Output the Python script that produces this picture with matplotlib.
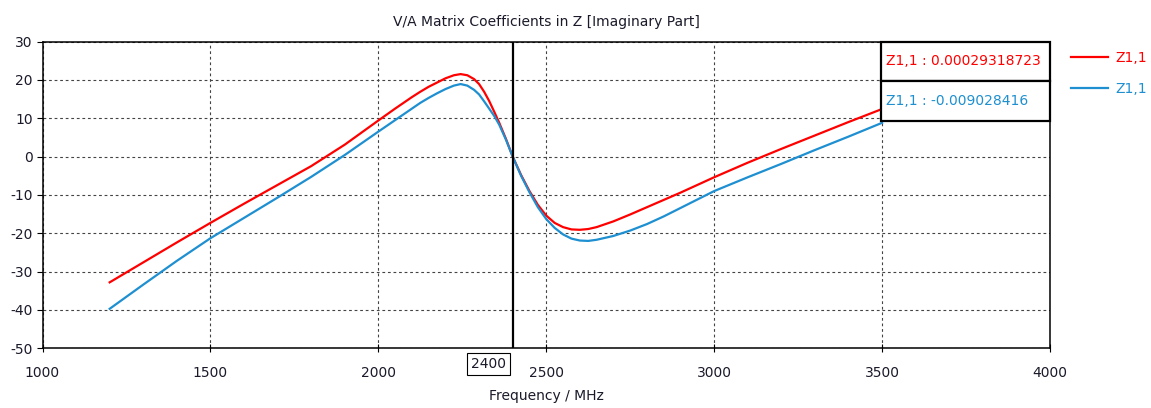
import matplotlib
matplotlib.use("Agg")
import matplotlib.pyplot as plt
from matplotlib.patches import Rectangle

# ---- data ----
freq_red = [1200, 1300, 1400, 1500, 1600, 1700, 1800, 1900, 2000, 2050, 2100, 2125,
            2150, 2175, 2200, 2225, 2245, 2265, 2285, 2300, 2315, 2330, 2345, 2360,
            2380, 2400, 2425, 2450, 2475, 2500, 2525, 2550, 2575, 2600, 2625, 2650,
            2700, 2750, 2800, 2850, 2900, 3000, 3100, 3200, 3300, 3400, 3500]
z_red = [-32.8, -27.6, -22.4, -17.3, -12.3, -7.4, -2.5, 3.1, 9.4, 12.5, 15.5, 16.9,
         18.2, 19.3, 20.4, 21.2, 21.5, 21.2, 20.2, 18.9, 16.9, 14.5, 11.7, 8.8,
         4.6, 0.0, -4.8, -9.0, -12.6, -15.4, -17.3, -18.4, -19.0, -19.1, -18.9, -18.4,
         -16.9, -15.1, -13.2, -11.3, -9.4, -5.4, -1.6, 2.0, 5.5, 9.0, 12.4]

freq_blue = [1200, 1300, 1400, 1500, 1600, 1700, 1800, 1900, 2000, 2050, 2100, 2125,
             2150, 2175, 2200, 2225, 2245, 2265, 2285, 2300, 2315, 2330, 2345, 2360,
             2380, 2400, 2425, 2450, 2475, 2500, 2525, 2550, 2575, 2600, 2625, 2650,
             2700, 2750, 2800, 2850, 2900, 3000, 3100, 3200, 3300, 3400, 3500]
z_blue = [-39.7, -33.4, -27.2, -21.3, -16.0, -10.7, -5.3, 0.4, 6.5, 9.5, 12.5, 14.0,
          15.3, 16.5, 17.6, 18.5, 18.9, 18.5, 17.4, 16.2, 14.4, 12.5, 10.6, 8.3,
          4.4, 0.0, -5.0, -9.3, -13.2, -16.3, -18.6, -20.3, -21.4, -21.9, -22.0, -21.7,
          -20.7, -19.3, -17.6, -15.6, -13.4, -9.0, -5.4, -1.9, 1.7, 5.2, 8.8]

series_labels = ["Z1,1", "Z1,1"]
marker_texts = ["Z1,1 : 0.00029318723", "Z1,1 : -0.009028416"]
cursor_freq = 2400
x_ticks = [1000, 1500, 2000, 2500, 3000, 3500, 4000]
y_ticks = [-50, -40, -30, -20, -10, 0, 10, 20, 30]

title = "V/A Matrix Coefficients in Z [Imaginary Part]"
xlabel = "Frequency / MHz"

RED = "#ff0000"
BLUE = "#1e8fd0"
TXT = "#1a1a2a"

plt.rcParams['font.family'] = ['DejaVu Sans']
plt.rcParams['axes.unicode_minus'] = False

W, H = 1151, 408
fig = plt.figure(figsize=(W / 100, H / 100), dpi=100)


def fx(x):
    return x / W


def fy(y):
    return 1 - y / H


L, R, T, B = 42.5, 1050, 41.5, 348.3
ax = fig.add_axes([fx(L), fy(B), (R - L) / W, (B - T) / H])

l1, = ax.plot(freq_red, z_red, color=RED, lw=1.6, label=series_labels[0], zorder=3)
l2, = ax.plot(freq_blue, z_blue, color=BLUE, lw=1.6, label=series_labels[1], zorder=3)

ax.set_xlim(1000, 4000)
ax.set_ylim(-50, 30)
ax.set_xticks(x_ticks)
ax.set_yticks(y_ticks)
ax.grid(True, color="#444444", linestyle=(0, (2.5, 2.5)), linewidth=0.8)
ax.set_axisbelow(True)
for s in ax.spines.values():
    s.set_linewidth(1.1)
    s.set_color("black")
ax.tick_params(axis='x', direction='inout', length=6, width=0.8, labelsize=10,
               labelcolor=TXT, pad=10)
ax.tick_params(axis='y', direction='out', length=4, width=0.8, labelsize=10,
               labelcolor=TXT, pad=3)

ax.axvline(cursor_freq, color="black", lw=1.6, zorder=4)

ax.set_title(title, fontsize=10, color=TXT, pad=11)
ax.set_xlabel(xlabel, fontsize=10, color=TXT, labelpad=6)

# cursor value box below the axis
ax.annotate(str(cursor_freq), xy=(cursor_freq, 0), xycoords=('data', 'axes fraction'),
            xytext=(-24, -16), textcoords='offset pixels', ha='center', va='center',
            fontsize=10, color=TXT,
            bbox=dict(boxstyle='square,pad=0.3', fc='white', ec='black', lw=0.8))

# marker value boxes
box_x0, box_x1 = 881, 1050
rows = [(41.5, 81), (81, 121)]
for (y0, y1), txt, col in zip(rows, marker_texts, [RED, BLUE]):
    fig.add_artist(Rectangle((fx(box_x0), fy(y1)), (box_x1 - box_x0) / W, (y1 - y0) / H,
                             transform=fig.transFigure, fc='white', ec='black', lw=1.6,
                             zorder=10))
    fig.text(fx(box_x0 + 5), fy((y0 + y1) / 2), txt, color=col, fontsize=10,
             ha='left', va='center', zorder=11)

leg = fig.legend(handles=[l1, l2], loc='upper left',
                 bbox_to_anchor=(fx(1058), fy(38)), frameon=False,
                 fontsize=10, handlelength=2.7, handletextpad=0.5, labelspacing=1.25)
for t, c in zip(leg.get_texts(), [RED, BLUE]):
    t.set_color(c)

fig.savefig("out.png", dpi=100)
